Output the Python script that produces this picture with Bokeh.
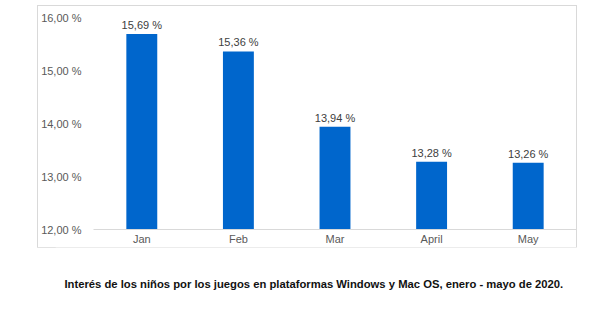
from bokeh.plotting import figure
from bokeh.models import ColumnDataSource, FixedTicker, Range1d
from bokeh.layouts import column
from bokeh.embed import file_html
from bokeh.resources import INLINE
from bokeh.core.properties import value

months = ["Jan", "Feb", "Mar", "April", "May"]
interest = [15.69, 15.36, 13.94, 13.28, 13.26]
y_ticks = [12, 13, 14, 15, 16]
y_tick_labels = ["12,00 %", "13,00 %", "14,00 %", "15,00 %", "16,00 %"]
caption = "Interés de los niños por los juegos en plataformas Windows y Mac OS, enero - mayo de 2020."

FONT = "Liberation Sans"

src = ColumnDataSource(dict(
    month=months,
    val=interest,
    lbl=[("%.2f" % v).replace(".", ",") + " %" for v in interest],
))

p = figure(x_range=months, y_range=Range1d(12, 16), width=538, height=241,
           output_backend="svg", toolbar_location=None,
           min_border_left=54, min_border_right=0, min_border_top=11, min_border_bottom=17)
p.margin = (6, 0, 0, 38)
p.styles = {"outline": "1px solid #d9d9d9"}
p.outline_line_color = None
p.background_fill_color = "white"
p.border_fill_color = "white"
p.xgrid.grid_line_color = None
p.ygrid.grid_line_color = None

p.vbar(x="month", top="val", bottom=12, width=0.32, source=src,
       fill_color="#0066cc", line_color=None)
p.text(x="month", y="val", text="lbl", source=src, y_offset=-3,
       text_align="center", text_baseline="bottom",
       text_font=value(FONT), text_font_size="11px", text_color="#404040")

p.yaxis.ticker = FixedTicker(ticks=y_ticks)
p.yaxis.major_label_overrides = {t: l for t, l in zip(y_ticks, y_tick_labels)}
p.yaxis.axis_line_color = None
p.yaxis.major_tick_line_color = None
p.yaxis.minor_tick_line_color = None
p.yaxis.major_tick_out = 0
p.yaxis.major_tick_in = 0
p.yaxis.minor_tick_out = 0
p.yaxis.major_label_standoff = 12
p.yaxis.major_label_text_font = FONT
p.yaxis.major_label_text_font_size = "11px"
p.yaxis.major_label_text_color = "#595959"

p.xaxis.axis_line_color = "#d9d9d9"
p.xaxis.major_tick_line_color = None
p.xaxis.minor_tick_line_color = None
p.xaxis.major_tick_out = 0
p.xaxis.major_tick_in = 0
p.xaxis.major_label_standoff = 3
p.xaxis.major_label_text_font = FONT
p.xaxis.major_label_text_font_size = "11px"
p.xaxis.major_label_text_color = "#595959"

cap = figure(width=608, height=74, x_range=Range1d(0, 608), y_range=Range1d(0, 74),
             x_axis_type=None, y_axis_type=None,
             output_backend="svg", toolbar_location=None,
             min_border=0, min_border_left=0, min_border_right=0,
             min_border_top=0, min_border_bottom=0)
cap.grid.visible = False
cap.outline_line_color = None
cap.text(x=[284], y=[38], text=[caption], text_align="center", text_baseline="middle",
         text_font=value(FONT), text_font_size="11.25px", text_font_style="bold",
         text_color="#111111")

layout = column(p, cap)
open("out.html", "w").write(file_html(layout, INLINE))
